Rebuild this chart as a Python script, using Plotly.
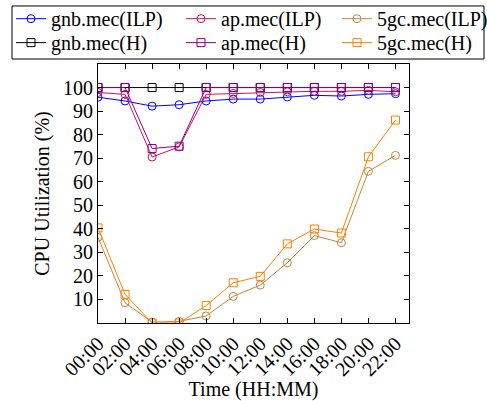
import plotly.graph_objects as go

times = ["00:00", "02:00", "04:00", "06:00", "08:00", "10:00",
         "12:00", "14:00", "16:00", "18:00", "20:00", "22:00"]
hours = [int(t[:2]) for t in times]

gnb_ilp = [95.9, 94.3, 92.1, 92.7, 94.3, 95.1, 95.1, 96.0, 96.7, 96.4, 97.1, 97.4]
ap_ilp = [97.9, 97.1, 70.5, 74.8, 97.1, 97.5, 97.9, 98.2, 98.4, 98.4, 98.8, 98.2]
gc_ilp = [36.4, 8.6, 0.4, 0.7, 3.0, 11.3, 16.1, 25.6, 37.1, 34.1, 64.4, 71.2]
gnb_h = [100, 100, 100, 100, 100, 100, 100, 100, 100, 100, 100, 100]
ap_h = [100, 100, 74.1, 75.1, 100, 100, 100, 100, 100, 100, 100, 100]
gc_h = [40.4, 12.2, 0.0, 0.0, 7.4, 17.1, 19.8, 33.6, 39.9, 38.2, 70.6, 86.2]

yticks = [10, 20, 30, 40, 50, 60, 70, 80, 90, 100]

series_names = ["gnb.mec(ILP)", "ap.mec(ILP)", "5gc.mec(ILP)",
                "gnb.mec(H)", "ap.mec(H)", "5gc.mec(H)"]
series_values = [gnb_ilp, ap_ilp, gc_ilp, gnb_h, ap_h, gc_h]
series_colors = ["#0000ff", "#cc1450", "#c8843c", "#000000", "#8c008c", "#ff8000"]
series_symbols = ["circle-open"] * 3 + ["square-open"] * 3

FONT = "Liberation Serif"

# legend grid: 3 columns x 2 rows (paper coordinates)
col_x = [-0.2797, 0.2669, 0.7685]
row_y = [1.175, 1.0825]

fig = go.Figure()
layout_legends = {}
for i, (name, vals, color, sym) in enumerate(zip(series_names, series_values,
                                                series_colors, series_symbols)):
    key = "legend" if i == 0 else f"legend{i + 1}"
    fig.add_trace(go.Scatter(
        x=hours, y=vals, name=name, mode="lines+markers", legend=key,
        line=dict(color=color, width=1),
        marker=dict(symbol=sym, size=8, color=color, line=dict(width=1, color=color)),
    ))
    layout_legends[key] = dict(
        orientation="v", x=col_x[i % 3], y=row_y[i // 3],
        xanchor="left", yanchor="middle",
        borderwidth=0, bgcolor="rgba(0,0,0,0)",
        font=dict(family=FONT, size=20, color="black"),
    )

axis_common = dict(
    showline=True, linecolor="black", linewidth=1, mirror="ticks",
    ticks="inside", ticklen=5, tickcolor="black", tickwidth=1,
    showgrid=False, zeroline=False,
    tickfont=dict(family=FONT, size=20, color="black"),
)

fig.update_xaxes(
    range=[0, 23], tickvals=hours, ticktext=times, tickangle=-45,
    title=dict(text="Time (HH:MM)", font=dict(family=FONT, size=20, color="black"), standoff=0),
    **axis_common,
)
fig.update_yaxes(
    range=[0, 110], tickvals=yticks, ticktext=[str(v) for v in yticks],
    title=dict(text="CPU Utilization (%)", font=dict(family=FONT, size=20, color="black"), standoff=8),
    **axis_common,
)

fig.update_layout(
    width=487, height=401,
    margin=dict(l=98, r=78, t=64, b=78, autoexpand=False),
    plot_bgcolor="white", paper_bgcolor="white",
    font=dict(family=FONT, size=20, color="black"),
    showlegend=True,
    shapes=[dict(type="rect", xref="paper", yref="paper",
                 x0=-0.2765, x1=1.2412, y0=1.0193, y1=1.224,
                 line=dict(color="black", width=1), fillcolor="rgba(0,0,0,0)",
                 layer="above")],
    **layout_legends,
)

fig.write_html("out.html", config={"displayModeBar": False},
               post_script="document.body.style.margin='0px';")
